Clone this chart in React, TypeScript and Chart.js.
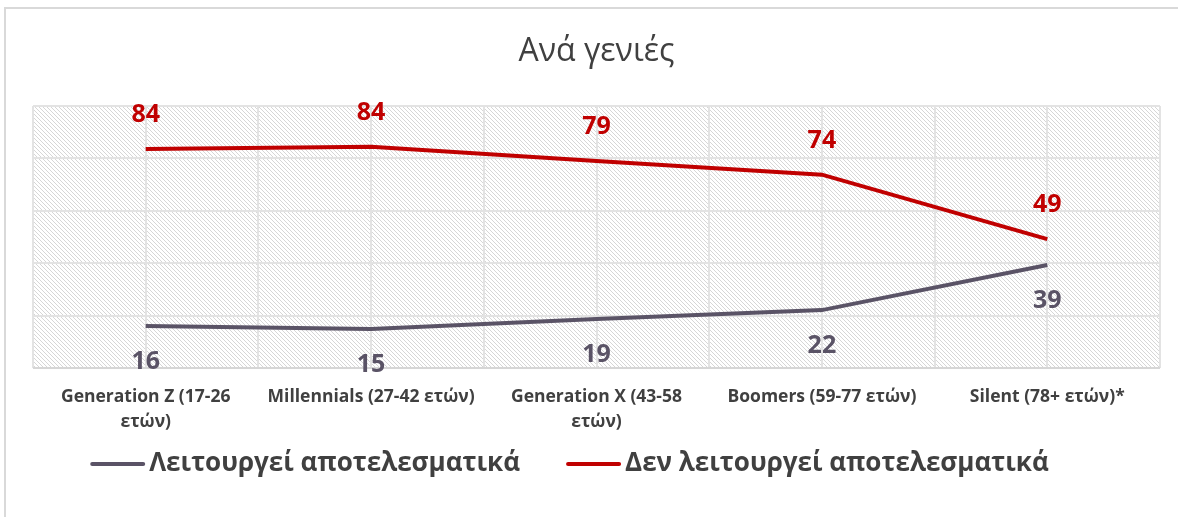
import React, { useEffect, useRef } from "react";
import { Chart, registerables } from "chart.js";

Chart.register(...registerables);

const chartTitle = "Ανά γενιές";
const categories: (string | string[])[] = [
  ["Generation Z (17-26", "ετών)"],
  "Millennials (27-42 ετών)",
  ["Generation X (43-58", "ετών)"],
  "Boomers (59-77 ετών)",
  "Silent (78+ ετών)*",
];
const seriesNames = ["Λειτουργεί αποτελεσματικά", "Δεν λειτουργεί αποτελεσματικά"];
const worksValues = [16, 14.9, 18.7, 22.1, 39.3];
const notWorksValues = [83.6, 84.4, 79, 73.8, 49.2];
const yMin = 0;
const yMax = 100;
const yStep = 20;

const GRAY = "#5a5366";
const RED = "#c00000";
const TEXT = "#404040";
const FONT = '"Open Sans", "Noto Sans", sans-serif';

function makePattern(): CanvasPattern | string {
  const c = document.createElement("canvas");
  c.width = 4;
  c.height = 4;
  const g = c.getContext("2d");
  if (!g) return "#eeeeee";
  g.fillStyle = "#ffffff";
  g.fillRect(0, 0, 4, 4);
  g.fillStyle = "#d6d6d6";
  for (let i = 0; i < 4; i++) g.fillRect(i, i, 1, 1);
  const p = g.createPattern(c, "repeat");
  return p || "#eeeeee";
}

export default function App() {
  const ref = useRef<HTMLCanvasElement | null>(null);

  useEffect(() => {
    document.body.style.margin = "0";
    const canvas = ref.current;
    if (!canvas) return;
    const pattern = makePattern();

    const backgroundPlugin = {
      id: "hatchBg",
      beforeDraw(chart: any) {
        const { ctx, chartArea } = chart;
        ctx.save();
        ctx.fillStyle = "#ffffff";
        ctx.fillRect(0, 0, chart.width, chart.height);
        ctx.fillStyle = pattern;
        ctx.fillRect(
          chartArea.left,
          chartArea.top,
          chartArea.right - chartArea.left,
          chartArea.bottom - chartArea.top
        );
        ctx.restore();
      },
    };

    const dataLabelPlugin = {
      id: "valueLabels",
      afterDatasetsDraw(chart: any) {
        const { ctx } = chart;
        ctx.save();
        ctx.font = `bold 25px ${FONT}`;
        ctx.textAlign = "center";
        ctx.textBaseline = "middle";
        chart.data.datasets.forEach((ds: any, di: number) => {
          const meta = chart.getDatasetMeta(di);
          ctx.fillStyle = ds.borderColor;
          meta.data.forEach((pt: any, i: number) => {
            const v = Math.round(ds.data[i]);
            ctx.fillText(String(v), pt.x, pt.y + ds.labelOffset);
          });
        });
        ctx.restore();
      },
    };

    const legendPlugin = {
      id: "customLegend",
      afterDraw(chart: any) {
        const { ctx, chartArea } = chart;
        const y = chartArea.bottom + 96;
        const lineLen = 55;
        const gapText = 4;
        const gapItems = 46;
        ctx.save();
        ctx.font = `bold 26px ${FONT}`;
        const items = chart.data.datasets.map((ds: any) => ({
          text: ds.label,
          color: ds.borderColor,
          w: ctx.measureText(ds.label).width,
        }));
        let total = 0;
        items.forEach((it: any, i: number) => {
          total += lineLen + gapText + it.w + (i > 0 ? gapItems : 0);
        });
        const centerX = (chartArea.left + chartArea.right) / 2 - 27;
        let x = centerX - total / 2;
        items.forEach((it: any, i: number) => {
          if (i > 0) x += gapItems;
          ctx.strokeStyle = it.color;
          ctx.lineWidth = 4;
          ctx.lineCap = "round";
          ctx.beginPath();
          ctx.moveTo(x + 2, y);
          ctx.lineTo(x + lineLen - 2, y);
          ctx.stroke();
          x += lineLen + gapText;
          ctx.fillStyle = TEXT;
          ctx.textAlign = "left";
          ctx.textBaseline = "middle";
          ctx.fillText(it.text, x, y);
          x += it.w;
        });
        ctx.restore();
      },
    };

    const chart = new Chart(canvas, {
      type: "line",
      data: {
        labels: categories as any,
        datasets: [
          {
            label: seriesNames[0],
            data: worksValues,
            borderColor: GRAY,
            backgroundColor: GRAY,
            borderWidth: 4,
            pointRadius: 0,
            tension: 0,
            labelOffset: 36,
          } as any,
          {
            label: seriesNames[1],
            data: notWorksValues,
            borderColor: RED,
            backgroundColor: RED,
            borderWidth: 4,
            pointRadius: 0,
            tension: 0,
            labelOffset: -34,
          } as any,
        ],
      },
      options: {
        animation: false,
        responsive: true,
        maintainAspectRatio: false,
        layout: { padding: { left: 33, right: 18, top: 0, bottom: 0 } },
        plugins: {
          legend: { display: false },
          tooltip: { enabled: false },
          title: {
            display: true,
            text: chartTitle,
            color: TEXT,
            font: { family: FONT, size: 32, weight: "normal" as any, lineHeight: 1.2 },
            padding: { top: 33, bottom: 34.6 },
          },
        },
        scales: {
          x: {
            type: "category",
            offset: true,
            grid: { display: false, drawTicks: false },
            border: { display: false },
            ticks: {
              color: TEXT,
              font: { family: FONT, size: 17.5, weight: "bold" as any, lineHeight: 1.42 },
              padding: 17,
              maxRotation: 0,
              autoSkip: false,
            },
            afterFit(scale: any) {
              scale.height = 149;
            },
          },
          x2: {
            type: "linear",
            position: "bottom",
            min: -0.5,
            max: categories.length - 0.5,
            ticks: { display: false, stepSize: 0.5 },
            grid: { color: "#e3e3e3", lineWidth: 2, drawTicks: false },
            border: { display: false },
          },
          y: {
            min: yMin,
            max: yMax,
            ticks: { display: false, stepSize: yStep },
            grid: {
              drawTicks: false,
              lineWidth: 2,
              color: (c: any) => (c.tick && c.tick.value === yMin ? "#d6d6d6" : "#e3e3e3"),
            },
            border: { display: false },
          },
        },
      },
      plugins: [backgroundPlugin, dataLabelPlugin, legendPlugin],
    });

    return () => chart.destroy();
  }, []);

  return (
    <div style={{ position: "relative", width: 1178, height: 517, overflow: "hidden", background: "#fff" }}>
      <canvas ref={ref} />
      <div
        style={{
          position: "absolute",
          left: 4,
          top: 7,
          width: 1200,
          height: 600,
          borderTop: "2px solid #d9d9d9",
          borderLeft: "2px solid #d9d9d9",
          pointerEvents: "none",
        }}
      />
    </div>
  );
}
